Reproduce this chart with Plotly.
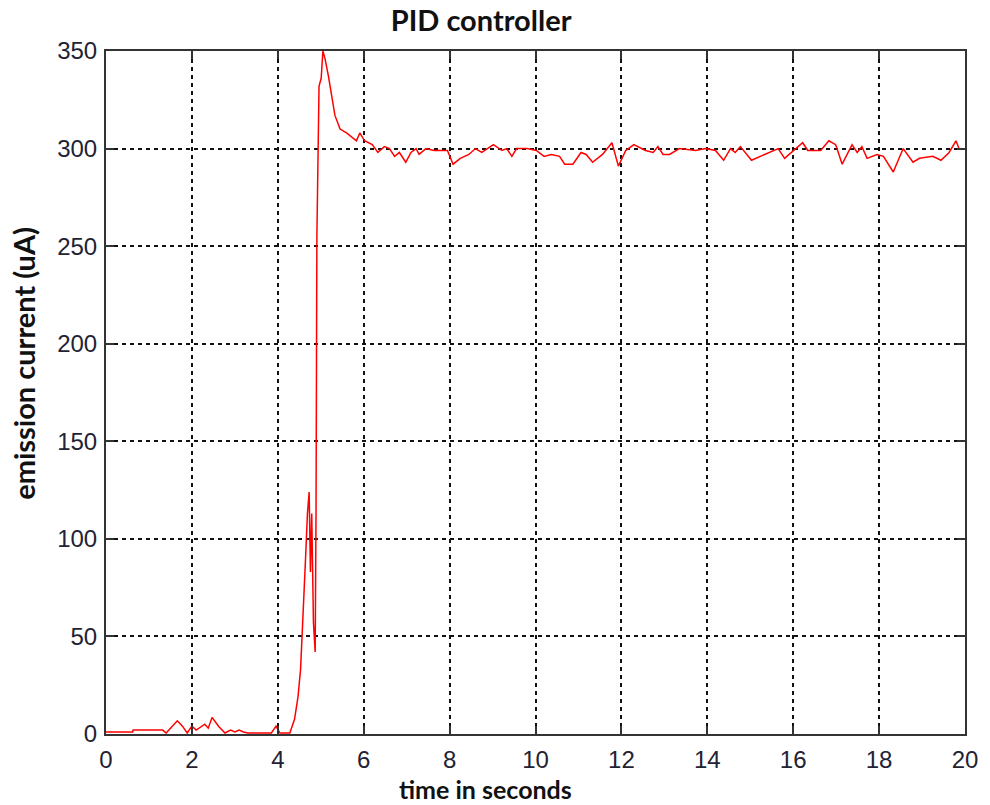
import plotly.graph_objects as go

t = [0.0, 0.3, 0.62, 0.63, 1.32, 1.4, 1.5, 1.66, 1.78, 1.89, 2.0, 2.1, 2.3, 2.38, 2.47, 2.62, 2.77,
     2.9, 3.0, 3.1, 3.2, 3.3, 3.85, 3.96, 4.05, 4.28, 4.39, 4.47, 4.53, 4.56, 4.60, 4.65, 4.69,
     4.73, 4.76, 4.79, 4.83, 4.87, 4.89, 4.91, 4.96, 5.01, 5.05, 5.10, 5.18, 5.25, 5.33, 5.45,
     5.60, 5.83, 5.91, 6.02, 6.1, 6.2, 6.33, 6.48, 6.6, 6.72, 6.83, 6.98, 7.1, 7.22, 7.29, 7.45,
     7.64, 7.95, 8.08, 8.25, 8.45, 8.6, 8.75, 9.02, 9.22, 9.33, 9.45, 9.56, 9.8, 10.02, 10.2,
     10.37, 10.56, 10.68, 10.87, 11.06, 11.18, 11.33, 11.56, 11.78, 11.93, 12.1, 12.29, 12.56,
     12.74, 12.85, 12.97, 13.12, 13.35, 13.73, 13.96, 14.19, 14.38, 14.54, 14.65, 14.77, 15.03,
     15.34, 15.65, 15.8, 15.95, 16.22, 16.34, 16.64, 16.83, 16.99, 17.14, 17.37, 17.49, 17.6,
     17.72, 17.95, 18.1, 18.33, 18.56, 18.79, 18.94, 19.25, 19.44, 19.63, 19.79, 19.86]
current = [1, 1, 1, 2, 2, 0.5, 3, 6.8, 4, 0.5, 4, 2, 5, 3, 8.5, 4, 0.5,
           2, 1, 2, 1, 0.5, 0.5, 4, 0.5, 0.5, 7.5, 19, 33, 50, 71, 92, 113,
           124, 83, 113, 57, 42, 113, 255, 332, 336, 350, 346, 337, 328, 317, 310,
           308, 304, 308, 304, 303, 302, 298, 301, 300, 296, 298, 293, 298, 300, 297, 300,
           299, 299, 292, 295, 297, 300, 298, 302, 299, 300, 296, 300, 300, 299, 296,
           297, 296, 292, 292, 298, 297, 293, 297, 303, 291, 299, 302, 299,
           298, 301, 297, 297, 300, 299, 300, 299, 294, 300, 298, 301, 294,
           297, 300, 295, 298, 303, 299, 299, 304, 302, 292, 302, 298, 301,
           295, 297, 296, 288, 300, 293, 295, 296, 294, 298, 304, 300]

x_ticks = list(range(0, 21, 2))
y_ticks = list(range(0, 351, 50))

fig = go.Figure()
fig.add_trace(go.Scatter(x=t, y=current, mode="lines",
                         line=dict(color="#ff0000", width=1.5), showlegend=False))

axis_common = dict(
    showline=True, linecolor="#333333", linewidth=2, mirror="ticks",
    ticks="inside", ticklen=8, tickcolor="#333333", tickwidth=2,
    showgrid=True, gridcolor="#111111", gridwidth=1.5, griddash="4px,4px",
    zeroline=False,
    tickfont=dict(family="Liberation Sans, Arial", size=24, color="#222233"),
)
fig.update_xaxes(range=[0, 20], tickvals=x_ticks, ticklabelstandoff=3, **axis_common)
fig.update_yaxes(range=[0, 350], tickvals=y_ticks, ticklabelstandoff=2, **axis_common)

fig.update_layout(
    width=990, height=805,
    margin=dict(l=106, r=15, t=51, b=71),
    paper_bgcolor="white", plot_bgcolor="white",
    title=dict(text="<b>PID controller</b>", x=0.486, xref="container", xanchor="center",
               y=0.974, yref="container", yanchor="middle",
               font=dict(family="Lato", size=29, color="#111111")),
    annotations=[
        dict(text="<b>time in seconds</b>", xref="paper", yref="paper", x=0.442, y=-0.081,
             xanchor="center", yanchor="middle", showarrow=False,
             font=dict(family="Lato", size=25, color="#111111")),
        dict(text="<b>emission current (uA)</b>", xref="paper", yref="paper", x=-0.097, y=0.543,
             xanchor="center", yanchor="middle", textangle=-90, showarrow=False,
             font=dict(family="Lato", size=29, color="#111111")),
    ],
)

fig.write_html("out.html")
